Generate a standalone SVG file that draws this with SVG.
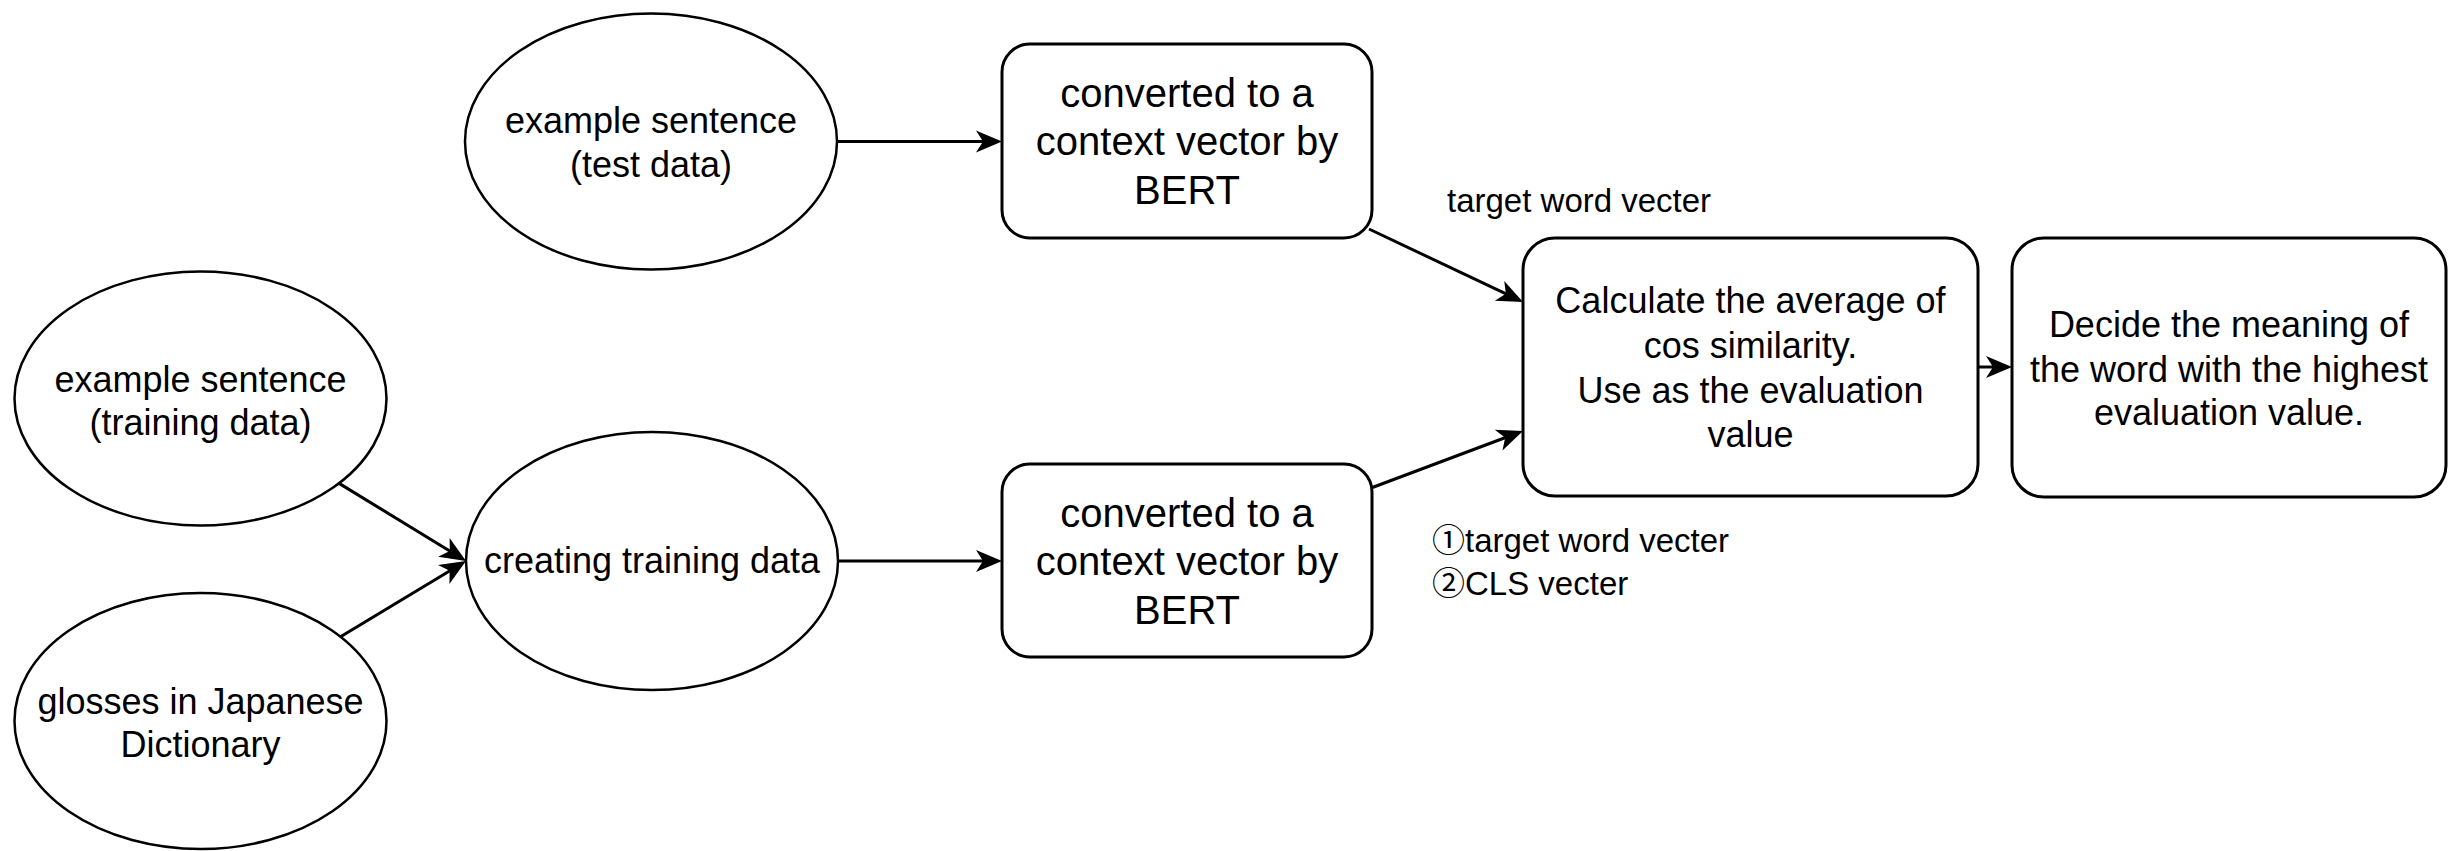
<svg xmlns="http://www.w3.org/2000/svg" width="2453" height="851" viewBox="0 0 2453 851">
  <style>
    .shape { fill: #ffffff; stroke: #000000; }
    .ell { stroke-width: 2.5; }
    .box { stroke-width: 3; }
    .t { font-family: "Liberation Sans", Arial, "Noto Sans CJK JP", sans-serif; fill: #000000; text-anchor: middle; }
    .t36 { font-size: 36px; }
    .t40 { font-size: 40px; }
    .lbl { font-family: "Liberation Sans", Arial, "Noto Sans CJK JP", sans-serif; font-size: 33px; fill: #000000; }
    .edge { fill: none; stroke: #000000; stroke-width: 3; }
  </style>
  <defs>
    <marker id="arrow" markerUnits="userSpaceOnUse" markerWidth="30" markerHeight="26" viewBox="-18 -13 30 26" refX="0" refY="0" orient="auto">
      <path d="M10,0 L-16,-11 L-9,0 L-16,11 Z" fill="#000000"/>
    </marker>
  </defs>
  <rect width="2453" height="851" fill="#ffffff"/>

  <g id="connectors">
    <line class="edge" x1="837" y1="141.5" x2="992" y2="141.5" marker-end="url(#arrow)"/>
    <line class="edge" x1="339.5" y1="483.6" x2="457.5" y2="555.8" marker-end="url(#arrow)"/>
    <line class="edge" x1="340.5" y1="636.7" x2="457.4" y2="566.2" marker-end="url(#arrow)"/>
    <line class="edge" x1="838" y1="561" x2="992" y2="561" marker-end="url(#arrow)"/>
    <line class="edge" x1="1369" y1="229" x2="1514" y2="297.7" marker-end="url(#arrow)"/>
    <line class="edge" x1="1371" y1="488" x2="1513.6" y2="434.5" marker-end="url(#arrow)"/>
    <line class="edge" x1="1978" y1="367" x2="2002" y2="367" marker-end="url(#arrow)"/>
    <text class="lbl" x="1447" y="212">target word vecter</text>
    <text class="lbl" x="1432" y="552">①target word vecter</text>
    <text class="lbl" x="1432" y="595">②CLS vecter</text>
  </g>

  <g id="test-sentence">
    <ellipse class="shape ell" cx="651" cy="141.5" rx="186" ry="128"/>
    <text class="t t36" x="651" y="133">example sentence</text>
    <text class="t t36" x="651" y="177">(test data)</text>
  </g>

  <g id="training-sentence">
    <ellipse class="shape ell" cx="200.5" cy="398.5" rx="186" ry="127"/>
    <text class="t t36" x="200.5" y="392">example sentence</text>
    <text class="t t36" x="200.5" y="435">(training data)</text>
  </g>

  <g id="glosses">
    <ellipse class="shape ell" cx="200.5" cy="721" rx="186" ry="128"/>
    <text class="t t36" x="200.5" y="714">glosses in Japanese</text>
    <text class="t t36" x="200.5" y="757">Dictionary</text>
  </g>

  <g id="creating-training-data">
    <ellipse class="shape ell" cx="652" cy="561" rx="186" ry="129"/>
    <text class="t t36" x="652" y="573">creating training data</text>
  </g>

  <g id="bert-test">
    <rect class="shape box" x="1002" y="44" width="370" height="194" rx="28" ry="28"/>
    <text class="t t40" x="1187" y="107">converted to a</text>
    <text class="t t40" x="1187" y="155">context vector by</text>
    <text class="t t40" x="1187" y="204">BERT</text>
  </g>

  <g id="bert-training">
    <rect class="shape box" x="1002" y="464" width="370" height="193" rx="28" ry="28"/>
    <text class="t t40" x="1187" y="527">converted to a</text>
    <text class="t t40" x="1187" y="575">context vector by</text>
    <text class="t t40" x="1187" y="624">BERT</text>
  </g>

  <g id="similarity">
    <rect class="shape box" x="1523" y="238" width="455" height="258" rx="32" ry="32"/>
    <text class="t t36" x="1750.5" y="313">Calculate the average of</text>
    <text class="t t36" x="1750.5" y="358">cos similarity.</text>
    <text class="t t36" x="1750.5" y="403">Use as the evaluation</text>
    <text class="t t36" x="1750.5" y="447">value</text>
  </g>

  <g id="decide">
    <rect class="shape box" x="2012" y="238" width="434" height="259" rx="32" ry="32"/>
    <text class="t t36" x="2229" y="337">Decide the meaning of</text>
    <text class="t t36" x="2229" y="382">the word with the highest</text>
    <text class="t t36" x="2229" y="425">evaluation value.</text>
  </g>
</svg>
